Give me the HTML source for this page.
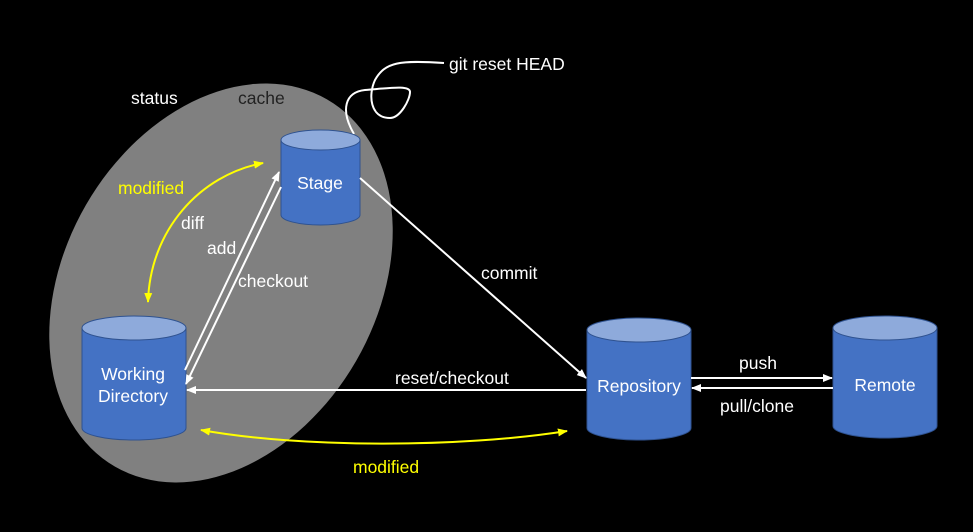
<!DOCTYPE html>
<html><head><meta charset="utf-8"><style>
html,body{margin:0;padding:0;background:#000;}
svg{display:block;}
text{font-family:"Liberation Sans","Noto Sans CJK SC",sans-serif;font-size:17.5px;}
</style></head><body>
<svg width="973" height="532" viewBox="0 0 973 532" xmlns="http://www.w3.org/2000/svg">
<defs>
<marker id="aw" viewBox="0 0 10 10" refX="9" refY="5" markerWidth="5" markerHeight="5" orient="auto-start-reverse"><path d="M0,1 L10,5 L0,9 z" fill="#fff"/></marker>
<marker id="ay" viewBox="0 0 10 10" refX="9" refY="5" markerWidth="5" markerHeight="5" orient="auto-start-reverse"><path d="M0,1 L10,5 L0,9 z" fill="#ff0"/></marker>
</defs>
<rect width="973" height="532" fill="#000"/>
<ellipse cx="221" cy="283" rx="212" ry="156" transform="rotate(-60 221 283)" fill="#808080"/>
<text x="131" y="104" fill="#fff">status</text>
<text x="238" y="104" fill="#222">cache</text>
<text x="449" y="70" fill="#fff">git reset HEAD</text>
<path d="M354,134 C340,110 345,92 365,90 C390,88 410,85 410,92 C410,100 400,118 390,118 C370,118 368,95 375,80 C385,62 400,60 444,63" fill="none" stroke="#fff" stroke-width="2"/>
<g stroke="#2f528f" stroke-width="1">
<path d="M281,140 L281,215 A39.5,10 0 0 0 360,215 L360,140 Z" fill="#4472c4"/>
<ellipse cx="320.5" cy="140" rx="39.5" ry="10" fill="#8eaadb"/>
<path d="M82,328 L82,428 A52,12 0 0 0 186,428 L186,328 Z" fill="#4472c4"/>
<ellipse cx="134" cy="328" rx="52" ry="12" fill="#8eaadb"/>
<path d="M587,330 L587,428 A52,12 0 0 0 691,428 L691,330 Z" fill="#4472c4"/>
<ellipse cx="639" cy="330" rx="52" ry="12" fill="#8eaadb"/>
<path d="M833,328 L833,426 A52,12 0 0 0 937,426 L937,328 Z" fill="#4472c4"/>
<ellipse cx="885" cy="328" rx="52" ry="12" fill="#8eaadb"/>
</g>
<text x="320" y="189" fill="#fff" text-anchor="middle">Stage</text>
<text x="133" y="380" fill="#fff" text-anchor="middle">Working</text>
<text x="133" y="402" fill="#fff" text-anchor="middle">Directory</text>
<text x="639" y="392" fill="#fff" text-anchor="middle">Repository</text>
<text x="885" y="391" fill="#fff" text-anchor="middle">Remote</text>
<g stroke="#fff" stroke-width="2" fill="none">
<line x1="185" y1="370" x2="279" y2="172" marker-end="url(#aw)"/>
<line x1="281" y1="187" x2="186" y2="384" marker-end="url(#aw)"/>
<line x1="360" y1="178" x2="586" y2="378" marker-end="url(#aw)"/>
<line x1="586" y1="390" x2="187" y2="390" marker-end="url(#aw)"/>
<line x1="691" y1="378" x2="832" y2="378" marker-end="url(#aw)"/>
<line x1="833" y1="388" x2="692" y2="388" marker-end="url(#aw)"/>
</g>
<g stroke="#ff0" stroke-width="2" fill="none">
<path d="M148,302 C150,230 200,175 263,163" marker-start="url(#ay)" marker-end="url(#ay)"/>
<path d="M201,430 C300,448 460,448 567,431" marker-start="url(#ay)" marker-end="url(#ay)"/>
</g>
<text x="118" y="194" fill="#ff0">modified</text>
<text x="353" y="473" fill="#ff0">modified</text>
<text x="181" y="229" fill="#fff">diff</text>
<text x="207" y="254" fill="#fff">add</text>
<text x="238" y="287" fill="#fff">checkout</text>
<text x="481" y="279" fill="#fff">commit</text>
<text x="395" y="384" fill="#fff">reset/checkout</text>
<text x="739" y="369" fill="#fff">push</text>
<text x="720" y="412" fill="#fff">pull/clone</text>
</svg>
</body></html>
